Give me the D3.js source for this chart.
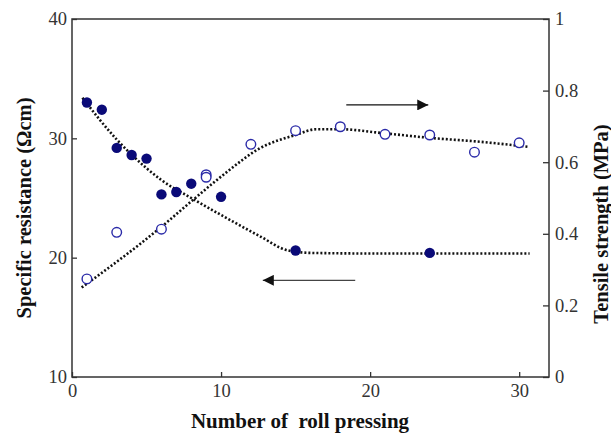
<!DOCTYPE html>
<html>
<head>
<meta charset="utf-8">
<script src="https://cdn.jsdelivr.net/npm/d3@7"></script>
<style>
  body { margin: 0; background: #fff; }
  svg { display: block; }
</style>
</head>
<body>
<div id="chart"></div>
<script>
// Data
const pressCount = [1, 2, 3, 4, 5, 6, 7, 8, 10, 15, 24];
const resistance = [33.0, 32.4, 29.2, 28.6, 28.3, 25.3, 25.5, 26.2, 25.1, 20.6, 20.4];

const strengthCount = [1, 3, 6, 9, 9, 12, 15, 18, 21, 24, 27, 30];
const strength = [0.274, 0.404, 0.413, 0.565, 0.558, 0.65, 0.688, 0.699, 0.678, 0.676, 0.628, 0.654];

// fitted (dotted) trend curves
const resFitX = [0.7, 3, 5, 6, 8, 10.4, 12.6, 14.5, 16, 20, 30.7];
const resFitY = [33.4, 29.9, 27.5, 26.5, 25.0, 23.3, 21.8, 20.6, 20.4, 20.35, 20.35];
const strFitX = [0.65, 5.9, 8.1, 10.4, 12.6, 15, 16.4, 18, 20.9, 24, 27.4, 30.6];
const strFitY = [0.25, 0.416, 0.494, 0.573, 0.639, 0.676, 0.692, 0.692, 0.681, 0.668, 0.657, 0.643];

const xTicks = [0, 10, 20, 30];
const leftTicks = [10, 20, 30, 40];
const rightTicks = [0, 0.2, 0.4, 0.6, 0.8, 1];

// Layout
const WIDTH = 611;
const HEIGHT = 435;
const LEFT = 72, RIGHT = 549, TOP = 19, BOTTOM = 377;

const svg = d3
  .select("#chart")
  .append("svg")
  .attr("width", WIDTH)
  .attr("height", HEIGHT);

const x = d3.scaleLinear().domain([0, 32]).range([LEFT, RIGHT]);
const yL = d3.scaleLinear().domain([10, 40]).range([BOTTOM, TOP]);
const yR = d3.scaleLinear().domain([0, 1]).range([BOTTOM, TOP]);

const serif = "'Liberation Serif', 'Times New Roman', serif";

// Axes (ticks pointing inward)
const gx = svg
  .append("g")
  .attr("transform", `translate(0, ${BOTTOM})`)
  .call(d3.axisBottom(x).tickValues(xTicks).tickSize(-5).tickSizeOuter(0).tickPadding(5));

const gl = svg
  .append("g")
  .attr("transform", `translate(${LEFT}, 0)`)
  .call(d3.axisLeft(yL).tickValues(leftTicks).tickSize(-5).tickSizeOuter(0).tickPadding(5));

const gr = svg
  .append("g")
  .attr("transform", `translate(${RIGHT}, 0)`)
  .call(
    d3.axisRight(yR).tickValues(rightTicks).tickSize(-6).tickSizeOuter(0).tickPadding(6)
      .tickFormat((d) => String(d))
  );

[gx, gl, gr].forEach((g) => {
  g.select(".domain").remove();
  g.selectAll(".tick line").attr("stroke", "#333").attr("stroke-width", 1.3);
  g.selectAll(".tick text")
    .attr("font-family", serif)
    .attr("font-size", "18.5px")
    .attr("fill", "#333");
});

gx.selectAll(".tick text").attr("dy", "0.8em");

// frame
svg
  .append("rect")
  .attr("x", LEFT)
  .attr("y", TOP)
  .attr("width", RIGHT - LEFT)
  .attr("height", BOTTOM - TOP)
  .attr("fill", "none")
  .attr("stroke", "#333")
  .attr("stroke-width", 1.5);

// Axis titles
svg
  .append("text")
  .attr("x", 300)
  .attr("y", 428)
  .attr("text-anchor", "middle")
  .attr("font-family", serif)
  .attr("font-weight", "bold")
  .attr("font-size", "21px")
  .attr("fill", "#111")
  .style("white-space", "pre")
  .text("Number of  roll pressing");

svg
  .append("text")
  .attr("transform", "rotate(-90)")
  .attr("x", -208)
  .attr("y", 31)
  .attr("text-anchor", "middle")
  .attr("font-family", serif)
  .attr("font-weight", "bold")
  .attr("font-size", "20.5px")
  .attr("fill", "#111")
  .text("Specific resistance (Ωcm)");

svg
  .append("text")
  .attr("transform", "rotate(-90)")
  .attr("x", -224)
  .attr("y", 608)
  .attr("text-anchor", "middle")
  .attr("font-family", serif)
  .attr("font-weight", "bold")
  .attr("font-size", "20.5px")
  .attr("fill", "#111")
  .text("Tensile strength (MPa)");

// Dotted trend curves
const resFit = resFitX.map((d, i) => [d, resFitY[i]]);
const strFit = strFitX.map((d, i) => [d, strFitY[i]]);

svg
  .append("path")
  .datum(resFit)
  .attr("fill", "none")
  .attr("stroke", "#111")
  .attr("stroke-width", 2.6)
  .attr("stroke-dasharray", "2,2")
  .attr("d", d3.line().x((d) => x(d[0])).y((d) => yL(d[1])).curve(d3.curveMonotoneX));

svg
  .append("path")
  .datum(strFit)
  .attr("fill", "none")
  .attr("stroke", "#111")
  .attr("stroke-width", 2.6)
  .attr("stroke-dasharray", "2,2")
  .attr("d", d3.line().x((d) => x(d[0])).y((d) => yR(d[1])).curve(d3.curveMonotoneX));

// Markers: resistance (filled), tensile strength (open)
svg
  .selectAll("circle.res")
  .data(pressCount)
  .enter()
  .append("circle")
  .attr("class", "res")
  .attr("cx", (d) => x(d))
  .attr("cy", (d, i) => yL(resistance[i]))
  .attr("r", 5.2)
  .attr("fill", "#0a0a78");

svg
  .selectAll("circle.str")
  .data(strengthCount)
  .enter()
  .append("circle")
  .attr("class", "str")
  .attr("cx", (d) => x(d))
  .attr("cy", (d, i) => yR(strength[i]))
  .attr("r", 4.8)
  .attr("fill", "#fff")
  .attr("stroke", "#2a2aa8")
  .attr("stroke-width", 1.4);

// Arrows pointing to the axis of each series
svg
  .append("defs")
  .append("marker")
  .attr("id", "head")
  .attr("viewBox", "0 0 10 10")
  .attr("refX", 10)
  .attr("refY", 5)
  .attr("markerUnits", "userSpaceOnUse")
  .attr("markerWidth", 12)
  .attr("markerHeight", 11)
  .attr("orient", "auto")
  .append("path")
  .attr("d", "M0,0 L10,5 L0,10 Z")
  .attr("fill", "#111");

const arrowFrom = [18.4, 19.0];
const arrowTo = [23.9, 12.8];
const arrowLevel = [32.8, 18.1];

svg
  .selectAll("line.arrow")
  .data(arrowFrom)
  .enter()
  .append("line")
  .attr("class", "arrow")
  .attr("x1", (d) => x(d))
  .attr("x2", (d, i) => x(arrowTo[i]))
  .attr("y1", (d, i) => yL(arrowLevel[i]))
  .attr("y2", (d, i) => yL(arrowLevel[i]))
  .attr("stroke", (d, i) => (i === 0 ? "#111" : "#444"))
  .attr("stroke-width", 1.4)
  .attr("marker-end", "url(#head)");
</script>
</body>
</html>
